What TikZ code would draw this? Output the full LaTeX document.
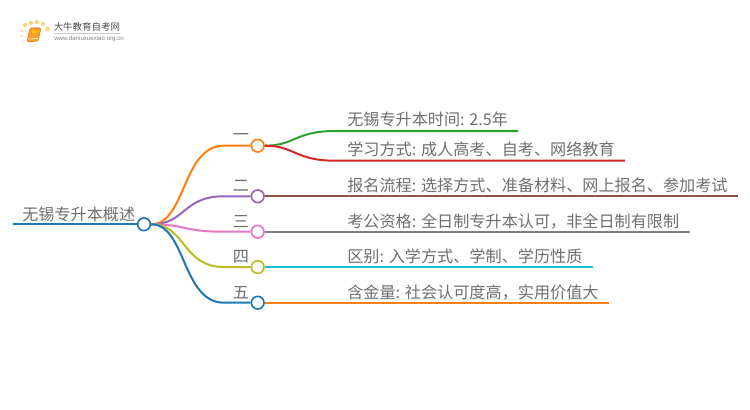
\documentclass[tikz,border=0pt]{standalone}
\usepackage{fontspec}
\setmainfont{Noto Sans CJK SC}
\setsansfont{Liberation Sans}
\usetikzlibrary{positioning}
\definecolor{torange}{HTML}{FF7F0E}
\definecolor{tgreen}{HTML}{2CA02C}
\definecolor{tred}{HTML}{D62728}
\definecolor{tpurple}{HTML}{9467BD}
\definecolor{tbrown}{HTML}{8C564B}
\definecolor{tpink}{HTML}{E377C2}
\definecolor{tgray}{HTML}{7F7F7F}
\definecolor{tolive}{HTML}{BCBD22}
\definecolor{tcyan}{HTML}{17BECF}
\definecolor{tblue}{HTML}{1F77B4}
\definecolor{txtgray}{HTML}{6E6E6E}
\definecolor{sunpale}{HTML}{FBD27E}
\definecolor{bookfill}{HTML}{F7A128}
\tikzset{
  branch/.style={line width=1.5pt},
  dot/.style={circle,draw=#1,line width=1.25pt,fill=white,minimum size=9.5pt,inner sep=0pt},
  label/.style={anchor=base west,inner sep=0pt,text=txtgray,font=\fontsize{12.1}{14}\selectfont},
  sun/.style={circle,inner sep=0pt,fill=#1},
}
\begin{document}
\begin{tikzpicture}[x=0.75pt,y=0.75pt,yscale=-1,xscale=1]
\useasboundingbox (0,0) rectangle (750,410);

%Shape: logo dots
\node (sunA) [sun=sunpale,minimum size=3.2pt] at (25,25) {};
\node (sunB) [sun=sunpale,minimum size=3.2pt] at (31,23) {};
\node (sunC) [sun=sunpale,minimum size=3.2pt] at (37,22) {};
\node (sunD) [sun=sunpale,minimum size=3.2pt] at (43,24) {};
\node (sunE) [sun=sunpale,minimum size=3.5pt] at (47.5,29) {};
\node (sunF) [sun=sunpale!70!white,minimum size=2.5pt] at (22,31) {};
\node (sunG) [sun=sunpale!50!white,minimum size=2.5pt] at (22,36) {};
\node (sunH) [sun=sunpale!40!white,minimum size=2pt] at (23,42) {};
%Shape: logo book
\draw [fill=bookfill,draw=orange!90!black,line width=0.4pt,rounded corners=1pt] (30,28) -- (41,28) -- (38,41) -- (27,42) -- cycle ;
\draw [draw=white,line width=0.5pt] (28.5,39) -- (38,38.5) ;
\draw [fill=yellow!60!orange,draw=none] (32.5,30.5) -- (38.5,30.5) -- (38,33.5) -- (32,33.5) -- cycle ;

% Text Node
\node (logotitle) [anchor=west,inner sep=0pt,text=black!70,font=\fontsize{7.1}{9}\selectfont] at (53.5,27) {大牛教育自考网};
% Text Node
\node (logourl) [anchor=west,inner sep=0pt,text=black!50,font=\sffamily\fontsize{4.6}{6}\selectfont] at (54,39) {www.daniuxuexiao.org.cn};
\draw [black!20,line width=0.5pt] (54,33.5) -- (120,33.5) ;

% Named ends
\coordinate (rootstart) at (13,224.3);
\coordinate (endA) at (518,131);
\coordinate (endB) at (625,160.7);
\coordinate (endC) at (738,196.3);
\coordinate (endD) at (690,231.7);
\coordinate (endE) at (593,267);
\coordinate (endF) at (609,302.7);

%Shape: circles
\node (root) [dot=tblue] at (144,224.3) {};
\node (one) [dot=torange] at (257.7,145.7) {};
\node (two) [dot=tpurple] at (257.7,196.3) {};
\node (three) [dot=tpink] at (257.7,231.7) {};
\node (four) [dot=tolive] at (257.7,267) {};
\node (five) [dot=tblue] at (257.7,302.7) {};

%Shape: root and first level lines
\draw [branch,tblue] (rootstart) -- (root.west) ;
\draw [branch,torange] (root.east) .. controls (186,224.3) and (182,145.7) .. (224,145.7) -- (one.west) ;
\draw [branch,tpurple] (root.east) .. controls (186,224.3) and (182,196.3) .. (224,196.3) -- (two.west) ;
\draw [branch,tpink] (root.east) .. controls (186,224.3) and (182,231.7) .. (224,231.7) -- (three.west) ;
\draw [branch,tolive] (root.east) .. controls (186,224.3) and (182,267) .. (224,267) -- (four.west) ;
\draw [branch,tblue] (root.east) .. controls (186,224.3) and (182,302.7) .. (224,302.7) -- (five.west) ;

%Shape: second level lines
\draw [branch,tgreen] (one.east) .. controls (295,145.7) and (295,131) .. (335,131) -- (endA) ;
\draw [branch,tred] (one.east) .. controls (295,145.7) and (295,160.7) .. (335,160.7) -- (endB) ;
\draw [branch,tbrown] (two.east) -- (endC) ;
\draw [branch,tgray] (three.east) -- (endD) ;
\draw [branch,tcyan] (four.east) -- (endE) ;
\draw [branch,torange] (five.east) -- (endF) ;

% Text Node
\node (roottext) [label] at (22,220) {无锡专升本概述};
% Text Node
\node (onetext) [label] at (232.5,141) {一};
% Text Node
\node (twotext) [label] at (232.5,191.5) {二};
% Text Node
\node (threetext) [label] at (232.5,227) {三};
% Text Node
\node (fourtext) [label] at (232.5,262) {四};
% Text Node
\node (fivetext) [label] at (232.5,298) {五};
% Text Node
\node (leafA) [label] at (347,126) {无锡专升本时间: 2.5年};
% Text Node
\node (leafB) [label] at (347,156) {学习方式: 成人高考、自考、网络教育};
% Text Node
\node (leafC) [label] at (347,191.5) {报名流程: 选择方式、准备材料、网上报名、参加考试};
% Text Node
\node (leafD) [label] at (347,227) {考公资格: 全日制专升本认可，非全日制有限制};
% Text Node
\node (leafE) [label] at (347,262) {区别: 入学方式、学制、学历性质};
% Text Node
\node (leafF) [label] at (347,298) {含金量: 社会认可度高，实用价值大};

\end{tikzpicture}
\end{document}
